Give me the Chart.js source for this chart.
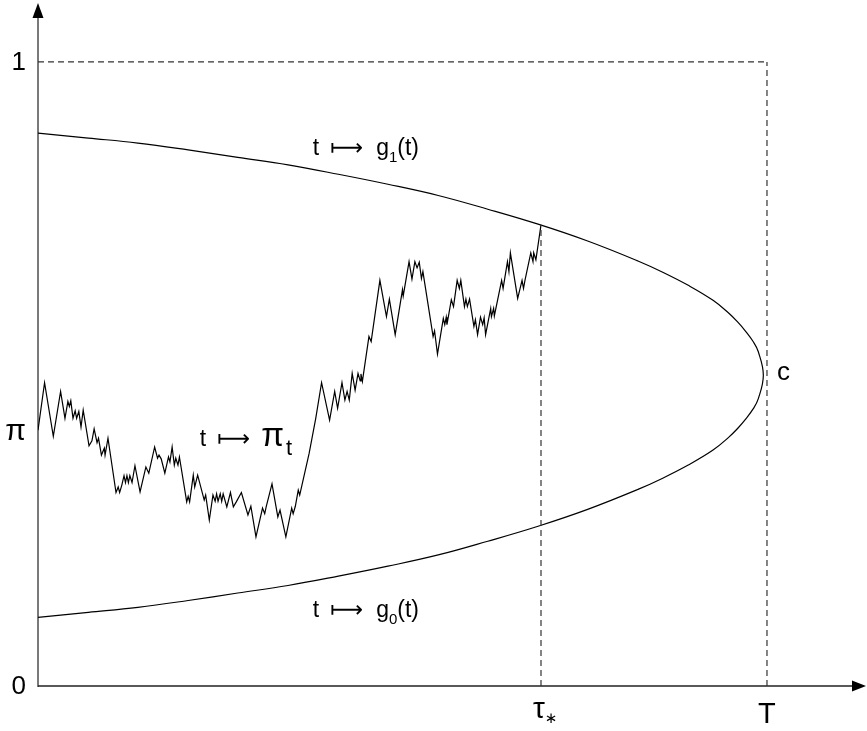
<!DOCTYPE html>
<html>
<head>
<meta charset="utf-8">
<script src="https://cdn.jsdelivr.net/npm/chart.js@4/dist/chart.umd.min.js"></script>
<style>
  html, body { margin: 0; padding: 0; background: #fff; }
  canvas { display: block; }
</style>
</head>
<body>
<canvas id="c" width="867" height="731"></canvas>
<script>
// ---------- data (time scaled so that T = 1, probability scale 0..1) ----------
const T = 1;
const tauStar = 0.690;
const piStart = 0.410;
const cLevel = 0.498;

const yTickValues = [0, piStart, 1];
const yTickLabels = ['0', 'π', '1'];

// boundary curves g1 (upper) and g0 (lower)
const curveT = [0, 0.069, 0.137, 0.206, 0.274, 0.343, 0.412, 0.480, 0.549, 0.617, 0.686, 0.754, 0.823, 0.857, 0.892, 0.926, 0.947, 0.960, 0.971, 0.981, 0.988, 0.995];
const g1 = [0.886, 0.878, 0.870, 0.859, 0.847, 0.835, 0.820, 0.804, 0.786, 0.764, 0.740, 0.713, 0.681, 0.663, 0.642, 0.618, 0.598, 0.583, 0.568, 0.552, 0.536, 0.498];
const g0 = [0.110, 0.118, 0.126, 0.137, 0.149, 0.161, 0.176, 0.192, 0.210, 0.232, 0.256, 0.283, 0.315, 0.333, 0.354, 0.378, 0.398, 0.413, 0.428, 0.444, 0.460, 0.498];

// sample path t -> pi_t
const walkT = [
  0, 0.009, 0.021, 0.031, 0.037, 0.041, 0.043, 0.045, 0.048, 0.051,
  0.053, 0.056, 0.059, 0.062, 0.070, 0.074, 0.077, 0.081, 0.083, 0.087,
  0.091, 0.092, 0.096, 0.107, 0.110, 0.112, 0.115, 0.118, 0.120, 0.122,
  0.124, 0.126, 0.129, 0.133, 0.140, 0.148, 0.152, 0.160, 0.164, 0.166,
  0.169, 0.174, 0.179, 0.181, 0.184, 0.187, 0.189, 0.192, 0.194, 0.204,
  0.206, 0.208, 0.213, 0.215, 0.219, 0.228, 0.230, 0.235, 0.240, 0.243,
  0.245, 0.247, 0.250, 0.252, 0.254, 0.259, 0.264, 0.268, 0.272, 0.279,
  0.288, 0.292, 0.299, 0.308, 0.311, 0.313, 0.321, 0.329, 0.332, 0.340,
  0.348, 0.350, 0.353, 0.357, 0.359, 0.372, 0.381, 0.389, 0.400, 0.407,
  0.411, 0.417, 0.421, 0.424, 0.427, 0.431, 0.435, 0.439, 0.442, 0.443,
  0.445, 0.454, 0.457, 0.469, 0.478, 0.482, 0.490, 0.500, 0.501, 0.509,
  0.513, 0.517, 0.520, 0.523, 0.526, 0.528, 0.542, 0.544, 0.548, 0.556,
  0.558, 0.560, 0.561, 0.567, 0.570, 0.575, 0.578, 0.580, 0.585, 0.587,
  0.589, 0.592, 0.598, 0.600, 0.603, 0.607, 0.610, 0.612, 0.614, 0.621,
  0.622, 0.625, 0.626, 0.636, 0.638, 0.644, 0.646, 0.648, 0.658, 0.664,
  0.666, 0.668, 0.676, 0.679, 0.680, 0.683, 0.690
];
const walkPi = [
  0.410, 0.486, 0.400, 0.472, 0.429, 0.456, 0.448, 0.457, 0.429, 0.441,
  0.429, 0.440, 0.415, 0.442, 0.385, 0.393, 0.412, 0.390, 0.397, 0.370,
  0.381, 0.370, 0.397, 0.310, 0.319, 0.310, 0.322, 0.337, 0.326, 0.337,
  0.326, 0.337, 0.326, 0.353, 0.311, 0.351, 0.341, 0.383, 0.365, 0.370,
  0.364, 0.341, 0.367, 0.359, 0.383, 0.354, 0.365, 0.354, 0.367, 0.295,
  0.304, 0.295, 0.338, 0.319, 0.338, 0.298, 0.306, 0.266, 0.306, 0.296,
  0.308, 0.296, 0.308, 0.296, 0.308, 0.287, 0.310, 0.287, 0.295, 0.310,
  0.274, 0.288, 0.239, 0.285, 0.276, 0.287, 0.324, 0.271, 0.282, 0.239,
  0.285, 0.276, 0.288, 0.314, 0.306, 0.373, 0.429, 0.486, 0.426, 0.472,
  0.445, 0.486, 0.458, 0.472, 0.458, 0.501, 0.474, 0.501, 0.489, 0.500,
  0.488, 0.560, 0.552, 0.650, 0.592, 0.620, 0.563, 0.635, 0.625, 0.680,
  0.652, 0.680, 0.670, 0.679, 0.653, 0.664, 0.560, 0.569, 0.532, 0.589,
  0.579, 0.591, 0.579, 0.619, 0.608, 0.650, 0.637, 0.650, 0.608, 0.620,
  0.608, 0.620, 0.576, 0.587, 0.563, 0.591, 0.579, 0.590, 0.563, 0.605,
  0.592, 0.605, 0.593, 0.650, 0.637, 0.680, 0.664, 0.694, 0.621, 0.650,
  0.637, 0.650, 0.694, 0.680, 0.694, 0.683, 0.739
];

// ---------- build datasets ----------
const boundary = [];
for (let i = 0; i < curveT.length; i++) boundary.push({ x: curveT[i], y: g1[i] });
for (let i = curveT.length - 2; i >= 0; i--) boundary.push({ x: curveT[i], y: g0[i] });

const walk = walkT.map((t, i) => ({ x: t, y: walkPi[i] }));

const gAtTau = walkPi[walkPi.length - 1];

const dashStyle = { borderColor: '#333', borderWidth: 1.2, borderDash: [6, 4], pointRadius: 0, tension: 0, fill: false };

const FONT = '"Liberation Sans", Arial, Helvetica, sans-serif';

function drawParts(ctx, x, baseline, parts) {
  let cx = x;
  for (const p of parts) {
    ctx.font = p.size + 'px ' + (p.family || FONT);
    ctx.fillText(p.text, cx, baseline + (p.dy || 0));
    cx += ctx.measureText(p.text).width + (p.gap || 0);
  }
}

const decorPlugin = {
  id: 'decor',
  beforeDatasetsDraw(chart) {
    const { ctx, chartArea: a, scales: { x, y } } = chart;
    const x0 = x.getPixelForValue(0), y0 = y.getPixelForValue(0);
    ctx.save();
    // y axis
    ctx.strokeStyle = '#7a7a7a';
    ctx.lineWidth = 2;
    ctx.beginPath(); ctx.moveTo(x0, y0 + 1); ctx.lineTo(x0, a.top); ctx.stroke();
    // x axis
    ctx.strokeStyle = '#222';
    ctx.lineWidth = 1.6;
    ctx.beginPath(); ctx.moveTo(x0, y0); ctx.lineTo(a.right, y0); ctx.stroke();
    // arrow heads
    ctx.fillStyle = '#000';
    ctx.beginPath(); ctx.moveTo(x0, a.top - 14); ctx.lineTo(x0 - 5.5, a.top + 1); ctx.lineTo(x0 + 5.5, a.top + 1); ctx.closePath(); ctx.fill();
    ctx.beginPath(); ctx.moveTo(a.right + 13, y0); ctx.lineTo(a.right - 1, y0 - 5.5); ctx.lineTo(a.right - 1, y0 + 5.5); ctx.closePath(); ctx.fill();
    ctx.restore();
  },
  afterDraw(chart) {
    const { ctx, scales: { x, y } } = chart;
    const y0 = y.getPixelForValue(0);
    const x0 = x.getPixelForValue(0);
    ctx.save();
    ctx.fillStyle = '#000';
    // y tick labels
    ctx.textAlign = 'right';
    ctx.textBaseline = 'middle';
    yTickValues.forEach((v, i) => {
      const isPi = yTickLabels[i] === 'π';
      ctx.font = (isPi ? 30 : 26) + 'px ' + FONT;
      ctx.fillText(yTickLabels[i], x0 - 12, y.getPixelForValue(v) + (isPi ? 2 : 1));
    });
    // x labels
    ctx.textBaseline = 'alphabetic';
    ctx.textAlign = 'center';
    ctx.font = '29px ' + FONT;
    ctx.fillText('T', x.getPixelForValue(T), y0 + 37);
    ctx.textAlign = 'left';
    const tx = x.getPixelForValue(tauStar);
    drawParts(ctx, tx - 8, y0 + 32, [
      { text: 'τ', size: 30 },
      { text: '∗', size: 15, dy: 5, family: '"DejaVu Sans", sans-serif' }
    ]);
    // c label
    ctx.font = '26px ' + FONT;
    ctx.fillText('c', x.getPixelForValue(T) + 10, y.getPixelForValue(cLevel) + 5);

    const arrow = { text: '⟼', size: 23, family: '"DejaVu Sans", sans-serif', gap: 13 };
    // g1 label
    drawParts(ctx, x.getPixelForValue(0.377), y.getPixelForValue(0.851), [
      { text: 't', size: 23, gap: 11 }, arrow,
      { text: 'g', size: 23 }, { text: '1', size: 15, dy: 7 }, { text: '(t)', size: 23 }
    ]);
    // pi label
    drawParts(ctx, x.getPixelForValue(0.222), y.getPixelForValue(0.385), [
      { text: 't', size: 23, gap: 11 }, Object.assign({}, arrow, { gap: 11 }),
      { text: 'π', size: 33, gap: 2 }, { text: 't', size: 22, dy: 9 }
    ]);
    // g0 label
    drawParts(ctx, x.getPixelForValue(0.377), y.getPixelForValue(0.111), [
      { text: 't', size: 23, gap: 11 }, arrow,
      { text: 'g', size: 23 }, { text: '0', size: 15, dy: 7 }, { text: '(t)', size: 23 }
    ]);
    ctx.restore();
  }
};

new Chart(document.getElementById('c'), {
  type: 'line',
  data: {
    datasets: [
      Object.assign({ data: [{ x: 0, y: 1 }, { x: T, y: 1 }] }, dashStyle),
      Object.assign({ data: [{ x: T, y: 0 }, { x: T, y: 1 }] }, dashStyle),
      Object.assign({ data: [{ x: tauStar, y: 0 }, { x: tauStar, y: gAtTau }] }, dashStyle),
      { data: boundary, borderColor: '#000', borderWidth: 1.2, pointRadius: 0, tension: 0.4, fill: false },
      { data: walk, borderColor: '#000', borderWidth: 1.2, pointRadius: 0, tension: 0, fill: false }
    ]
  },
  options: {
    responsive: false,
    animation: false,
    devicePixelRatio: 1,
    layout: { padding: { left: 38, top: 17, right: 14, bottom: 45 } },
    scales: {
      x: { type: 'linear', display: false, min: 0, max: 1.118 },
      y: { type: 'linear', display: false, min: 0, max: 1.072 }
    },
    plugins: { legend: { display: false }, tooltip: { enabled: false } },
    elements: { line: { capBezierPoints: true } }
  },
  plugins: [decorPlugin]
});
</script>
</body>
</html>
